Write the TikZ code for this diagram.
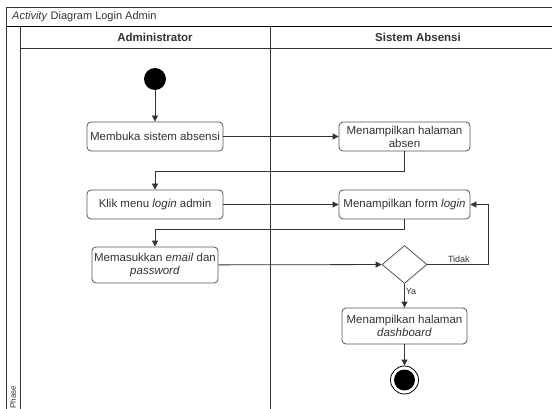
\documentclass[tikz,border=0pt]{standalone}
\usepackage{fontspec}
\setmainfont{Liberation Sans}
\usepackage{xcolor}
\usepackage{tikz}
\definecolor{garis}{HTML}{333333}
\definecolor{tepi}{HTML}{555555}
\definecolor{teks}{HTML}{333333}
\usetikzlibrary{arrows.meta}
\usetikzlibrary{positioning}
\usetikzlibrary{shapes.geometric}
\usetikzlibrary{calc}

\begin{document}
\begin{tikzpicture}[x=1pt, y=-1pt,
		aksi/.style={draw=tepi, thick, rounded corners=4pt, fill=white, text=teks, align=center, inner sep=1pt, font=\fontsize{11.5}{13}\selectfont},
		alur/.style={-{Triangle[length=6pt, width=6pt]}, garis, thick},
		rahmen/.style={draw=garis, line width=0.9pt},
		label/.style={text=teks, inner sep=1pt, font=\fontsize{9}{10}\selectfont}]
		\useasboundingbox (0,0) rectangle (552,409);

		%Rahmen und Swimlanes
		\draw [rahmen] (6,415) -- (6,7) -- (560,7);
		\draw [rahmen, black] (6,26) -- (560,26);
		\draw [rahmen] (20,48) -- (560,48);
		\draw [rahmen] (20,26) -- (20,415);
		\draw [garis, thin] (270,26) -- (270,415);
		\node [anchor=west, text=teks, inner sep=0pt, font=\fontsize{11}{12}\selectfont] (judul) at (12,16.5) {\textit{Activity} Diagram Login Admin};
		\node [text=teks, font=\bfseries\fontsize{11.5}{13}\selectfont] (adm) at (155,37) {Administrator};
		\node [text=teks, font=\bfseries\fontsize{11.5}{13}\selectfont] (sis) at (418,37) {Sistem Absensi};
		\node [rotate=90, text=teks, inner sep=0pt, font=\fontsize{8}{9}\selectfont] (phase) at (13,397) {Phase};

		%Aktionen
		\node [circle, fill=black, minimum size=22pt, inner sep=0pt] (mulai) at (155,79) {};
		\node [aksi, minimum width=136pt, minimum height=29pt] (membuka) at (155,136.5) {Membuka sistem absensi};
		\node [aksi, minimum width=131pt, minimum height=29pt] (halabsen) at (404.5,136.5) {Menampilkan halaman\\absen};
		\node [aksi, minimum width=136pt, minimum height=29pt] (klik) at (155,204.5) {Klik menu \textit{login} admin};
		\node [aksi, minimum width=131pt, minimum height=29pt] (form) at (404.5,204.5) {Menampilkan form \textit{login}};
		\node [aksi, minimum width=126pt, minimum height=36pt] (email) at (155,265) {Memasukkan \textit{email} dan\\\textit{password}};
		\node [diamond, draw=tepi, thick, fill=white, minimum width=45pt, minimum height=38pt, inner sep=0pt] (cek) at (404.5,264.5) {};
		\node [aksi, minimum width=125pt, minimum height=36pt] (dash) at (404.5,326) {Menampilkan halaman\\\textit{dashboard}};
		\node [circle, draw=black, thick, fill=white, minimum size=28pt, inner sep=0pt] (akhir) at (404.5,380) {};
		\fill [black] (akhir.center) circle (10.5pt);

		%Pfeile
		\draw [alur] (mulai) -- (membuka);
		\draw [alur] (membuka) -- (halabsen);
		\draw [alur] (halabsen.south) -- ++(0,20) -| (klik.north);
		\draw [alur] (klik) -- (form);
		\draw [alur] (form.south) -- ++(0,10) -| (email.north);
		\draw [alur] (email) -- (cek);
		\draw [alur] (cek.east) -- ++(61,0) node [label, midway, above, xshift=1pt, yshift=1pt] {Tidak} |- (form.east);
		\draw [alur] (cek.south) -- (dash.north) node [label, pos=0.3, right] {Ya};
		\draw [alur] (dash) -- (akhir);
\end{tikzpicture}
\end{document}
